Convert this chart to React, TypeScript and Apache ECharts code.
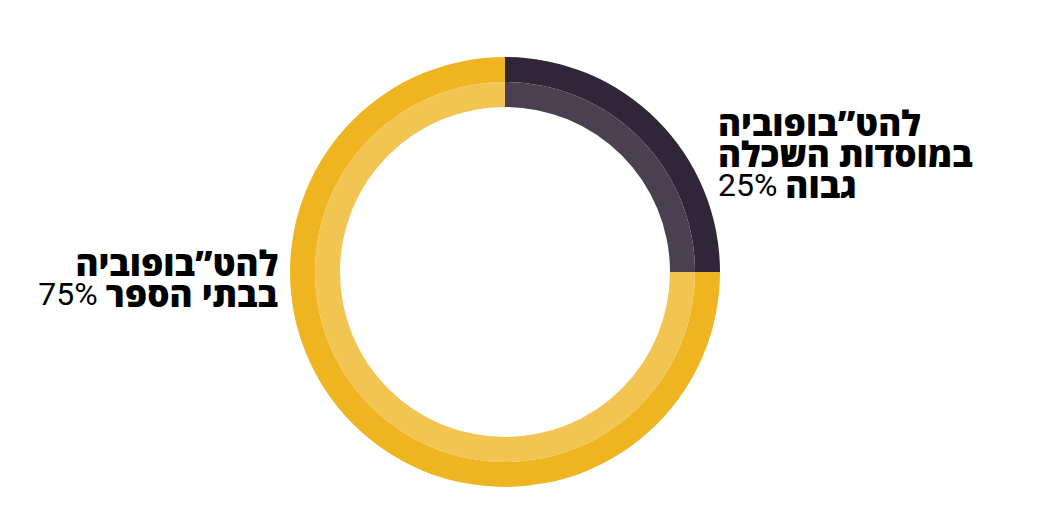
import React, { useEffect, useRef } from "react";
import * as echarts from "echarts";

const categories = ["להט”בופוביה במוסדות השכלה גבוה", "להט”בופוביה בבתי הספר"];
const values = [25, 75];
const outerColors = ["#2f2637", "#eeb521"];
const innerColors = ["#4a404f", "#f2c451"];
const labelLines = [
  ["להט”בופוביה", "במוסדות השכלה", "גבוה"],
  ["להט”בופוביה", "בבתי הספר"],
];

const HEB = "'Open Sans', 'DejaVu Sans', sans-serif";
const NUM = "Roboto, sans-serif";

function richLabel(lines: string[], value: number) {
  const out = lines.map((l, i) =>
    i === lines.length - 1 ? `{n|${value}% }{b|${l}}` : `{b|${l}}`
  );
  return out.join("\n");
}

export default function App() {
  const ref = useRef<HTMLDivElement>(null);
  useEffect(() => {
    document.body.style.margin = "0";
    const chart = echarts.init(ref.current!, null, { renderer: "svg" });
    const rich = {
      b: { fontFamily: HEB, fontWeight: 800, fontSize: 35, lineHeight: 31, color: "#111" },
      n: { fontFamily: NUM, fontWeight: 400, fontSize: 32, lineHeight: 31, color: "#111" },
    };
    chart.setOption({
      animation: false,
      backgroundColor: "#fff",
      series: [
        {
          type: "pie",
          center: [505, 272],
          radius: [190, 215],
          startAngle: 90,
          clockwise: true,
          label: { show: false },
          labelLine: { show: false },
          silent: true,
          data: categories.map((c, i) => ({ name: c, value: values[i], itemStyle: { color: outerColors[i] } })),
        },
        {
          type: "pie",
          center: [505, 272],
          radius: [165, 190],
          startAngle: 90,
          clockwise: true,
          label: { show: false },
          labelLine: { show: false },
          silent: true,
          data: categories.map((c, i) => ({ name: c, value: values[i], itemStyle: { color: innerColors[i] } })),
        },
      ],
      graphic: [
        {
          type: "text",
          x: 718,
          y: 107,
          style: {
            text: richLabel(labelLines[0], values[0]),
            rich,
            align: "left",
            verticalAlign: "top",
          },
        },
        {
          type: "text",
          x: 278,
          y: 247,
          style: {
            text: richLabel(labelLines[1], values[1]),
            rich,
            align: "right",
            verticalAlign: "top",
          },
        },
      ],
    });
    return () => chart.dispose();
  }, []);
  return <div ref={ref} style={{ width: 1060, height: 532 }} />;
}
